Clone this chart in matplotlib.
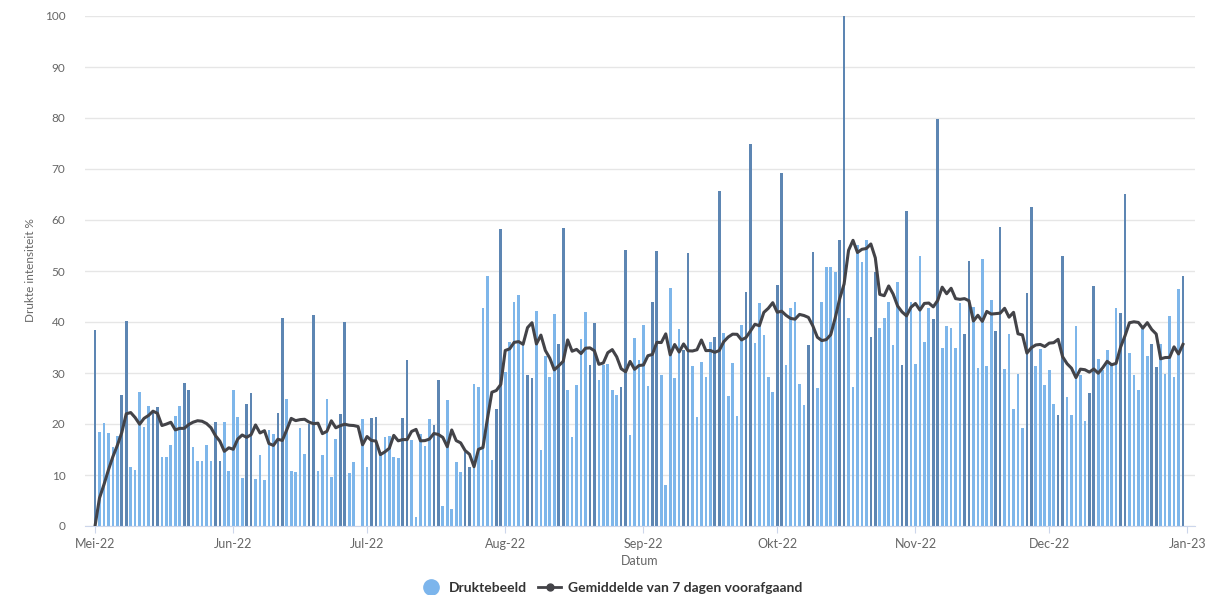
import pandas as pd
import matplotlib
matplotlib.use('Agg')
import matplotlib.pyplot as plt
from matplotlib.lines import Line2D

plt.rcParams['font.family'] = ['Lato', 'DejaVu Sans']

# dagelijkse drukte (%) per maand, 1 mei t/m 31 dec 2022
mei = [38.4, 18.4, 20.1, 18.2, 15.5, 17.7, 25.7, 40.1, 11.5, 11.0,
       26.3, 19.4, 23.6, 22.8, 23.3, 13.5, 13.5, 15.8, 21.5, 23.6,
       28.0, 26.6, 15.5, 12.8, 12.7, 15.8, 12.7, 20.3, 12.7, 20.3, 10.8]
jun = [26.7, 21.4, 9.5, 23.9, 26.1, 9.3, 13.9, 9.1, 18.8, 18.0,
       22.2, 40.7, 25.0, 10.8, 10.5, 19.3, 14.1, 20.0, 41.4, 10.7,
       13.9, 25.0, 9.7, 17.0, 22.0, 40.0, 10.3, 12.5, 0.0, 21.0]
jul = [11.6, 21.2, 21.4, 14.0, 17.5, 17.7, 13.5, 13.3, 21.2, 32.6,
       16.8, 1.8, 18.0, 15.6, 21.0, 19.8, 28.6, 4.0, 24.8, 3.4,
       12.5, 10.5, 14.6, 11.6, 27.8, 27.3, 42.8, 49.0, 12.9, 22.9, 58.2]
aug = [30.1, 36.1, 43.9, 45.3, 35.8, 29.6, 29.1, 42.2, 15.0, 33.3,
       29.3, 41.5, 35.6, 58.5, 26.7, 17.5, 27.6, 36.6, 42.0, 31.6,
       39.9, 28.6, 31.6, 31.8, 26.7, 25.7, 27.3, 54.2, 17.8, 36.8, 32.5]
sep = [39.4, 27.5, 43.9, 53.9, 29.7, 8.0, 46.7, 29.1, 38.6, 34.5,
       53.6, 31.4, 21.4, 32.1, 29.3, 36.1, 37.0, 65.6, 37.8, 25.4,
       31.9, 21.6, 39.4, 45.9, 74.9, 35.8, 43.7, 37.5, 29.3, 26.3]
okt = [47.3, 69.2, 31.6, 42.7, 44.0, 27.8, 23.7, 35.5, 53.8, 27.0,
       44.0, 50.7, 50.7, 49.9, 56.1, 100.0, 40.7, 27.3, 55.1, 51.8,
       56.1, 37.0, 49.9, 38.9, 40.7, 43.9, 35.5, 47.9, 31.6, 61.8, 44.0]
nov = [31.7, 53.0, 36.0, 42.7, 40.5, 79.9, 35.0, 39.2, 38.8, 35.0,
       43.7, 37.6, 52.0, 42.9, 30.9, 52.4, 31.4, 44.3, 38.2, 58.7,
       30.7, 37.6, 22.9, 29.9, 19.3, 45.6, 62.5, 31.4, 34.7, 27.6]
dec = [30.5, 23.9, 21.8, 52.9, 25.2, 21.8, 39.2, 29.7, 20.6, 26.1,
       47.1, 32.7, 30.6, 34.5, 31.6, 42.7, 41.8, 65.1, 34.0, 29.7,
       26.7, 39.1, 33.3, 35.6, 31.1, 35.7, 29.9, 41.2, 29.3, 46.5, 49.1]

maand_labels = ['Mei-22', 'Jun-22', 'Jul-22', 'Aug-22', 'Sep-22',
                'Okt-22', 'Nov-22', 'Dec-22', 'Jan-23']

waarden = mei + jun + jul + aug + sep + okt + nov + dec
datums = pd.date_range('2022-05-01', periods=len(waarden), freq='D')
druk = pd.Series(waarden, index=datums)

# gemiddelde van de 7 voorafgaande dagen
gem = druk.shift(1, fill_value=0).rolling(7, min_periods=1).sum() / 7

licht = '#7eb6ea'
donker = '#5d86b3'
kleuren = [donker if d.dayofweek >= 5 else licht for d in datums]

fig = plt.figure(figsize=(12.06, 5.95), dpi=100)
ax = fig.add_axes([85 / 1206, 69 / 595, 1110 / 1206, 510 / 595])

ax.bar(datums, druk.values, width=0.6, color=kleuren, zorder=2)
ax.plot(datums, gem.values, color='#434348', lw=2.2, zorder=3,
        solid_joinstyle='round')

ax.set_ylim(0, 100)
ax.set_yticks(range(0, 101, 10))
ax.set_xlim(datums[0] - pd.Timedelta(days=2.25), datums[-1] + pd.Timedelta(days=2.7))
ax.set_xticks(pd.date_range('2022-05-01', '2023-01-01', freq='MS'))
ax.set_xticklabels(maand_labels)

ax.grid(axis='y', color='#e6e6e6', lw=1, zorder=0)
for s in ['top', 'right', 'left']:
    ax.spines[s].set_visible(False)
ax.spines['bottom'].set_color('#ccd6eb')
ax.tick_params(axis='y', length=0, pad=14, labelsize=8.5, labelcolor='#666666')
ax.tick_params(axis='x', length=5, color='#ccd6eb', pad=4, labelsize=9, labelcolor='#666666')

fig.text(30 / 1206, 325 / 595, 'Drukte intensiteit %', rotation=90,
         ha='center', va='center', fontsize=8.5, color='#666666')
fig.text(640 / 1206, 34 / 595, 'Datum', ha='center', va='center',
         fontsize=9, color='#666666')

handles = [
    Line2D([], [], marker='o', linestyle='none', markerfacecolor='#7cb5ec',
           markeredgecolor='#7cb5ec', markersize=11),
    Line2D([], [], color='#434348', lw=2, marker='o', markersize=5),
]
fig.legend(handles, ['Druktebeeld', 'Gemiddelde van 7 dagen voorafgaand'],
           loc='center', bbox_to_anchor=(611 / 1206, 7 / 595), ncol=2, frameon=False,
           prop={'weight': 'bold', 'size': 10}, labelcolor='#333333',
           handlelength=1.6, columnspacing=0.8, handletextpad=0.5)

fig.savefig('out.png', dpi=100)
